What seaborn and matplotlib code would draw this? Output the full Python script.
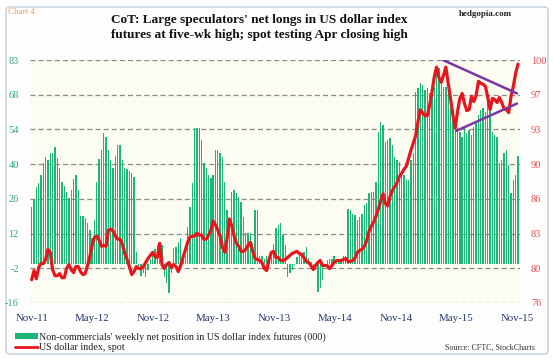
import numpy as np
import pandas as pd
import matplotlib
matplotlib.use("Agg")
import matplotlib.pyplot as plt
import seaborn as sns
from matplotlib.patches import Rectangle, FancyBboxPatch
from matplotlib.lines import Line2D

# ---------------- data ----------------
net_longs = [
    23.3, 25.8, 31.2, 32.8, 36.2, 41.2, 43.4, 42.3, 45.0, 45.3,
    47.5, 43.0, 38.9, 33.5, 31.5, 29.4, 26.7, 30.1, 34.4, 36.2,
    30.1, 19.5, 19.5, 18.6, 16.5, 13.8, 10.4, 17.9, 33.5, 42.6,
    46.4, 53.2, 51.5, 46.4, 42.3, 38.9, 43.9, 48.4, 48.4, 42.3,
    38.9, 38.5, 37.6, 36.9, 35.5, 4.9, -2.0, -5.0, -3.9, -5.3,
    -2.5, 2.0, 4.9, 5.9, 7.6, 9.0, 7.6, -5.3, -8.0, -12.0,
    -3.9, 6.3, 7.0, 9.0, 10.3, 3.0, 3.0, 15.0, 23.2, 32.8,
    55.2, 55.2, 55.2, 50.4, 40.9, 38.9, 36.1, 34.8, 36.1, 46.3,
    46.3, 45.0, 43.6, 33.4, 21.9, 15.1, 29.4, 30.0, 28.7, 27.3,
    25.3, 19.2, 12.4, 12.4, 12.4, 8.3, 21.9, 21.9, 3.0, 3.0,
    2.0, 3.0, 2.0, 2.9, 8.0, 14.4, 15.8, 16.5, 11.7, 7.6,
    -5.3, -3.9, -2.5, -0.5, 2.9, 3.6, 4.2, 4.9, 7.0, 2.2,
    0.8, -1.2, -2.5, -11.4, -10.0, -6.6, -1.2, 1.5, 2.0, 2.0,
    3.0, 2.0, 1.5, 2.0, 3.0, 3.0, 22.2, 21.9, 20.3, 19.9,
    17.8, 19.2, 20.3, 23.9, 24.6, 29.0, 29.4, 29.4, 33.4, 53.8,
    57.9, 56.5, 49.7, 50.4, 51.1, 48.4, 43.6, 42.3, 41.6, 36.1,
    36.1, 34.1, 34.1, 42.3, 45.0, 70.1, 71.5, 73.5, 72.8, 70.8,
    71.5, 69.4, 70.1, 72.1, 77.6, 79.6, 73.5, 72.1, 72.1, 71.5,
    66.7, 62.6, 59.2, 55.2, 53.8, 51.8, 55.8, 53.1, 54.5, 52.4,
    55.8, 57.9, 60.6, 62.6, 63.3, 62.0, 66.7, 63.3, 53.8, 52.4,
    51.8, 40.9, 42.3, 45.0, 46.3, 40.2, 28.7, 34.0, 36.1, 44.0,
]

dollar_index = [
    78.3, 79.2, 78.4, 79.5, 79.9, 79.9, 80.3, 81.3, 81.0, 79.3,
    78.7, 78.7, 78.9, 78.5, 78.5, 79.4, 79.8, 79.3, 79.0, 79.6,
    79.6, 79.1, 78.8, 78.9, 79.7, 80.6, 81.7, 82.5, 82.6, 82.2,
    81.6, 81.7, 81.6, 83.2, 83.3, 83.1, 82.6, 82.3, 82.3, 81.8,
    80.9, 80.3, 79.6, 78.8, 79.1, 79.6, 79.4, 79.4, 79.6, 80.0,
    80.4, 80.7, 81.0, 80.6, 80.5, 81.9, 79.8, 79.4, 79.8, 80.0,
    79.5, 79.8, 79.6, 79.1, 79.7, 80.5, 81.2, 82.0, 82.5, 82.6,
    82.6, 82.9, 82.7, 82.7, 82.3, 82.3, 82.7, 83.2, 84.1, 83.7,
    83.2, 82.6, 81.5, 81.0, 82.4, 84.3, 83.6, 82.6, 81.9, 81.6,
    81.1, 81.1, 81.3, 81.7, 82.0, 81.1, 80.4, 80.3, 80.2, 80.0,
    79.4, 79.2, 80.3, 81.0, 81.1, 80.5, 80.5, 80.2, 80.2, 80.3,
    80.5, 80.7, 80.9, 81.0, 81.1, 80.9, 80.8, 80.5, 80.1, 80.0,
    79.7, 79.3, 79.7, 80.0, 80.2, 79.7, 79.7, 79.7, 79.4, 79.7,
    80.0, 80.2, 80.2, 80.2, 80.3, 80.4, 80.1, 80.1, 80.2, 80.5,
    81.0, 81.2, 81.3, 81.6, 82.2, 83.1, 83.6, 84.0, 84.6, 85.3,
    86.1, 86.8, 85.8, 85.6, 86.5, 87.1, 87.5, 87.9, 88.5, 88.8,
    89.2, 89.5, 90.3, 91.1, 91.8, 92.5, 93.9, 95.1, 94.8, 94.5,
    94.5, 95.5, 96.8, 98.3, 99.3, 98.3, 97.8, 98.5, 99.3, 97.7,
    96.2, 94.6, 93.3, 94.9, 96.2, 96.7, 95.7, 95.0, 95.1, 96.4,
    95.9, 96.5, 97.9, 97.7, 97.6, 97.4, 96.3, 95.1, 96.2, 96.1,
    95.8, 96.3, 95.8, 95.2, 95.1, 94.8, 96.4, 97.4, 98.7, 99.6,
]

first_week = "2011-11-01"
tick_dates = ["2011-11-01", "2012-05-01", "2012-11-01", "2013-05-01", "2013-11-01",
              "2014-05-01", "2014-11-01", "2015-05-01", "2015-11-01"]
tick_labels = ["Nov-11", "May-12", "Nov-12", "May-13", "Nov-13",
               "May-14", "Nov-14", "May-15", "Nov-15"]
left_tick_labels = ["-16", "-2", "12", "26", "40", "54", "68", "83"]
right_tick_labels = ["76", "80", "83", "86", "90", "93", "97", "100"]
left_range = (-16, 83)
right_range = (76, 100)

# triangle trend lines (annotations, right axis)
upper_dates = ["2015-03-22", "2015-10-31"]
upper_vals = [100.0, 96.7]
lower_dates = ["2015-05-01", "2015-10-31"]
lower_vals = [93.0, 95.7]

# ---------------- build ----------------
start = pd.Timestamp(first_week)
weeks = pd.date_range(start, periods=len(net_longs), freq="7D")
df = pd.DataFrame({
    "day": (weeks - start).days.astype(float),
    "net": net_longs,
    "dxy": dollar_index,
})

def to_day(dates):
    return [(pd.Timestamp(d) - start).days for d in dates]

sns.set_theme(style="white")
plt.rcParams["font.family"] = ["Liberation Serif", "DejaVu Serif"]

W, H = 554, 360
fig = plt.figure(figsize=(W / 100, H / 100), dpi=100)
fig.patch.set_facecolor("white")

# outer rounded frame
frame = FancyBboxPatch((6 / W, 6 / H), 542 / W, 347 / H,
                       boxstyle="round,pad=0,rounding_size=0.008",
                       transform=fig.transFigure, facecolor="#fdfdfd",
                       edgecolor="#c9d5e3", linewidth=1.2, zorder=-10)
fig.patches.append(frame)

ax = fig.add_axes([30 / W, 1 - 303 / H, 490 / W, 243 / H])
ax.set_zorder(1)
ax.set_facecolor("#fcfcf1")

sns.barplot(data=df, x="day", y="net", native_scale=True, color="#1fb477",
            saturation=1, width=0.58, edgecolor="none", ax=ax, zorder=3)

ax.set_ylim(*left_range)
yt = np.linspace(left_range[0], left_range[1], len(left_tick_labels))
ax.set_yticks(yt)
ax.set_yticklabels(left_tick_labels)
ax.yaxis.grid(True, color="#8a8a8a", linestyle=(0, (4, 2.5)), linewidth=0.9)
ax.xaxis.grid(False)
ax.set_axisbelow(True)
for s in ax.spines.values():
    s.set_visible(False)
ax.tick_params(axis="y", length=0, pad=8, labelsize=7.5, labelcolor="#2fa77a")
ax.tick_params(axis="x", length=0, pad=8, labelsize=7.8, labelcolor="#26336a")
ax.set_xlabel("")
ax.set_ylabel("")

ax2 = ax.twinx()
sns.lineplot(data=df, x="day", y="dxy", color="#e8161c", linewidth=2.3, ax=ax2, zorder=5)
ax2.plot(to_day(upper_dates), upper_vals, color="#7d35a6", linewidth=1.8, zorder=6)
ax2.plot(to_day(lower_dates), lower_vals, color="#7d35a6", linewidth=1.8, zorder=6)
ax2.set_ylim(*right_range)
ax2.set_yticks(np.linspace(right_range[0], right_range[1], len(right_tick_labels)))
ax2.set_yticklabels(right_tick_labels)
ax2.tick_params(axis="y", length=0, pad=8, labelsize=7.5, labelcolor="#e04a4a")
ax2.set_ylabel("")
ax2.grid(False)
for s in ax2.spines.values():
    s.set_visible(False)

ax.set_xticks(to_day(tick_dates))
ax.set_xticklabels(tick_labels)
ax.set_xlim(-5, df["day"].iloc[-1] + 6)
ax2.set_xlim(ax.get_xlim())

# texts
fig.text(259 / W, 1 - 27.5 / H, "CoT: Large speculators' net longs in US dollar index\n"
         "futures at five-wk high; spot testing Apr closing high",
         ha="center", va="center", fontsize=9.5, fontweight="bold",
         color="#111111", linespacing=1.3)
fig.text(8 / W, 1 - 12 / H, "Chart 4", ha="left", va="center", fontsize=6.5, color="#f0a060")
fig.text(512 / W, 1 - 14 / H, "hedgopia.com", ha="right", va="center", fontsize=6.5,
         fontweight="bold", color="#222222")
fig.text(535 / W, 1 - 348 / H, "Source: CFTC, StockCharts", ha="right", va="center",
         fontsize=5.8, color="#333333")

handles = [Rectangle((0, 0), 1, 1, facecolor="#1fb477", edgecolor="none"),
           Line2D([0], [0], color="#e8161c", linewidth=2)]
labels = ["Non-commercials' weekly net position in US dollar index futures (000)",
          "US dollar index, spot"]
fig.legend(handles, labels, loc="lower left", bbox_to_anchor=(8 / W, 1 - 359 / H),
           frameon=False, fontsize=7.2, handlelength=2.3, handleheight=0.6,
           handletextpad=0.1, labelspacing=0.12, borderpad=0.2, labelcolor="#222222")

fig.savefig("out.png", dpi=100, facecolor="white")
